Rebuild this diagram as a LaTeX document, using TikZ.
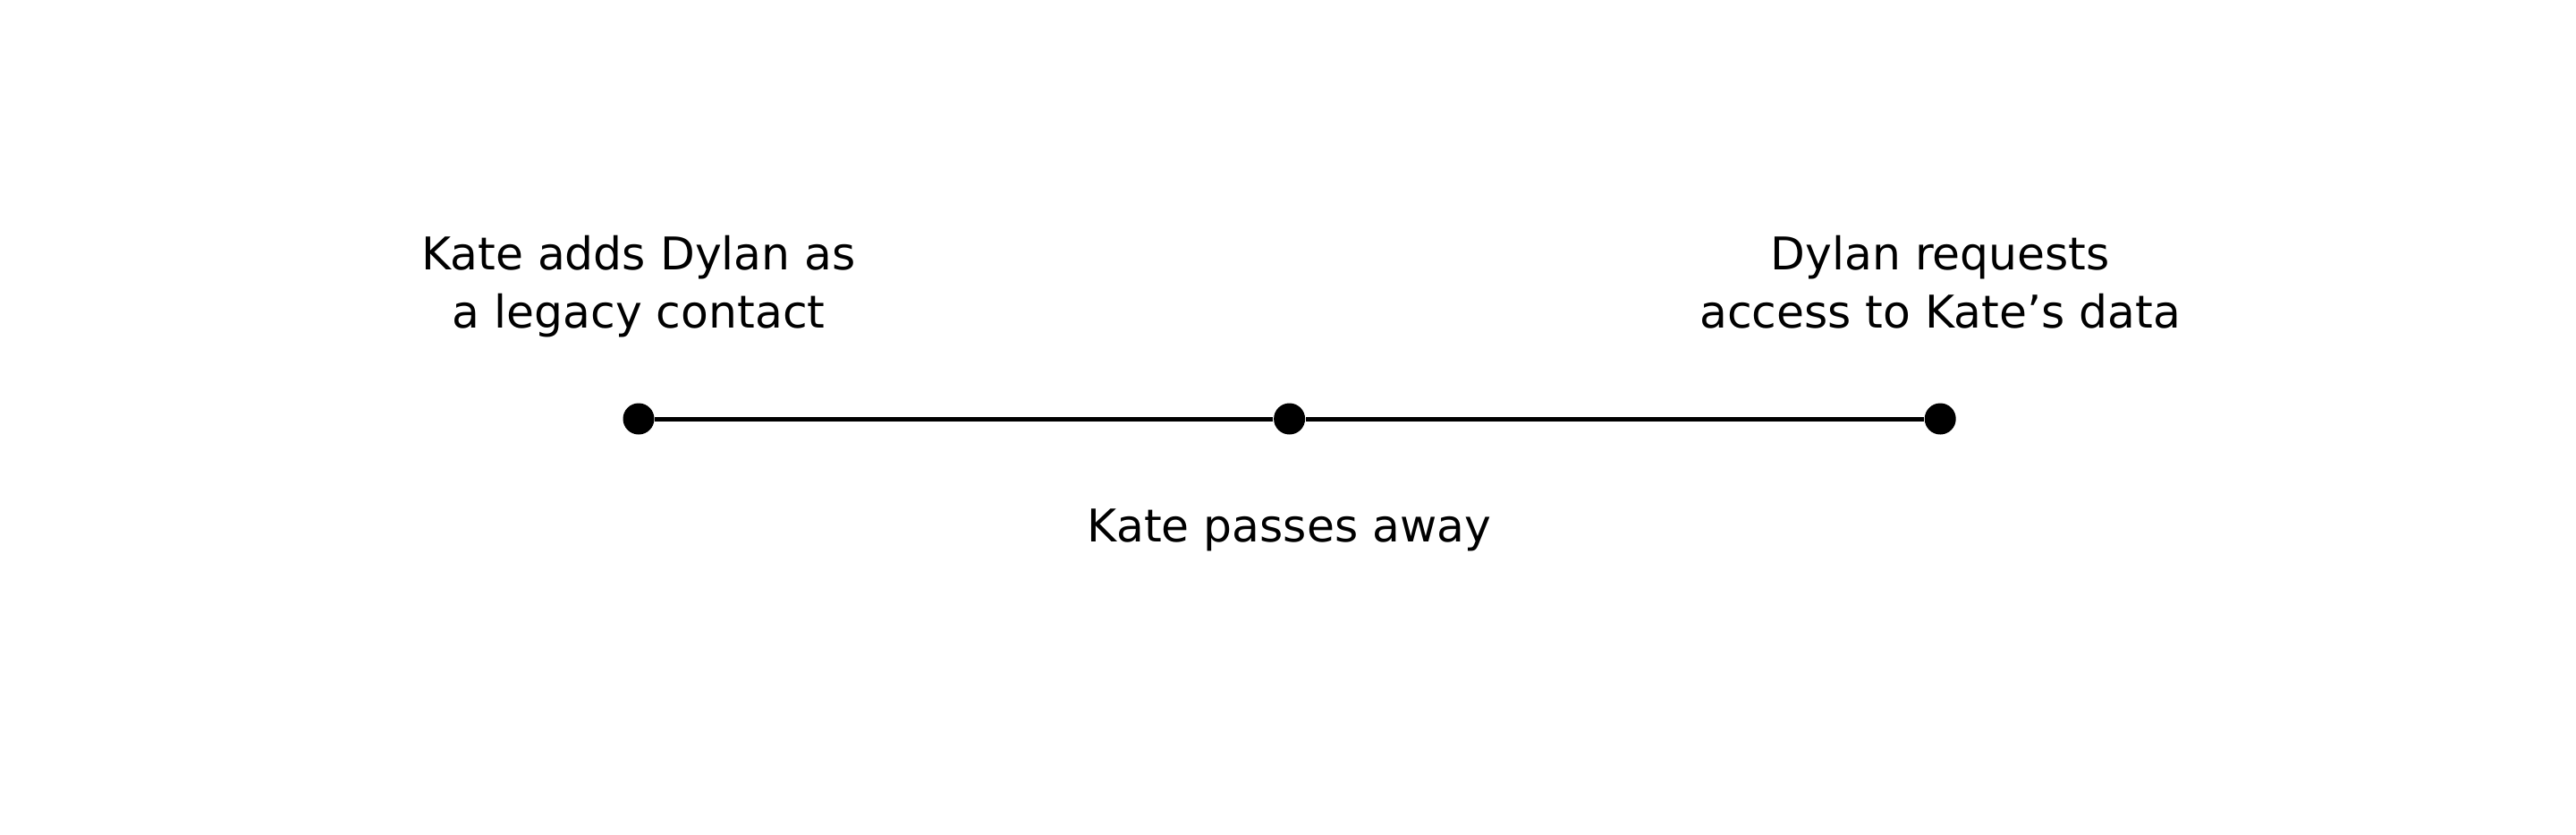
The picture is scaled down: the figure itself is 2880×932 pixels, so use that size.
\documentclass[tikz,border=0pt]{standalone}
\usepackage{fontspec}
\setmainfont{DejaVu Sans}
\usepackage{tikz}
\usetikzlibrary{positioning}
\usepackage{xcolor}
\definecolor{InkBlack}{RGB}{0,0,0}

\begin{document}
\begin{tikzpicture}[x=0.25pt, y=0.25pt,
    event/.style={circle, fill=InkBlack, minimum size=8.75pt, inner sep=0pt},
    caption/.style={align=center, inner sep=0pt, font=\fontsize{12.6}{16.25}\selectfont, text=InkBlack},
    timeline/.style={draw=InkBlack, line width=1.25pt}
  ]
  \useasboundingbox (0,0) rectangle (2880,-932);
  \node (added) [event] at (714,-468) {};
  \node (passed) [event, right=172.75pt of added] {};
  \node (request) [event, right=172.75pt of passed] {};
  \draw [timeline] (added) -- (passed) -- (request);
  \node (addedtext) [caption, text depth=3pt, above=17.6pt of added] {Kate adds Dylan as\\a legacy contact};
  \node (requesttext) [caption, text depth=3pt, above=17.6pt of request] {Dylan requests\\access to Kate’s data};
  \node (passedtext) [caption, below=20.5pt of passed] {Kate passes away}; % below the middle event
\end{tikzpicture}
\end{document}
